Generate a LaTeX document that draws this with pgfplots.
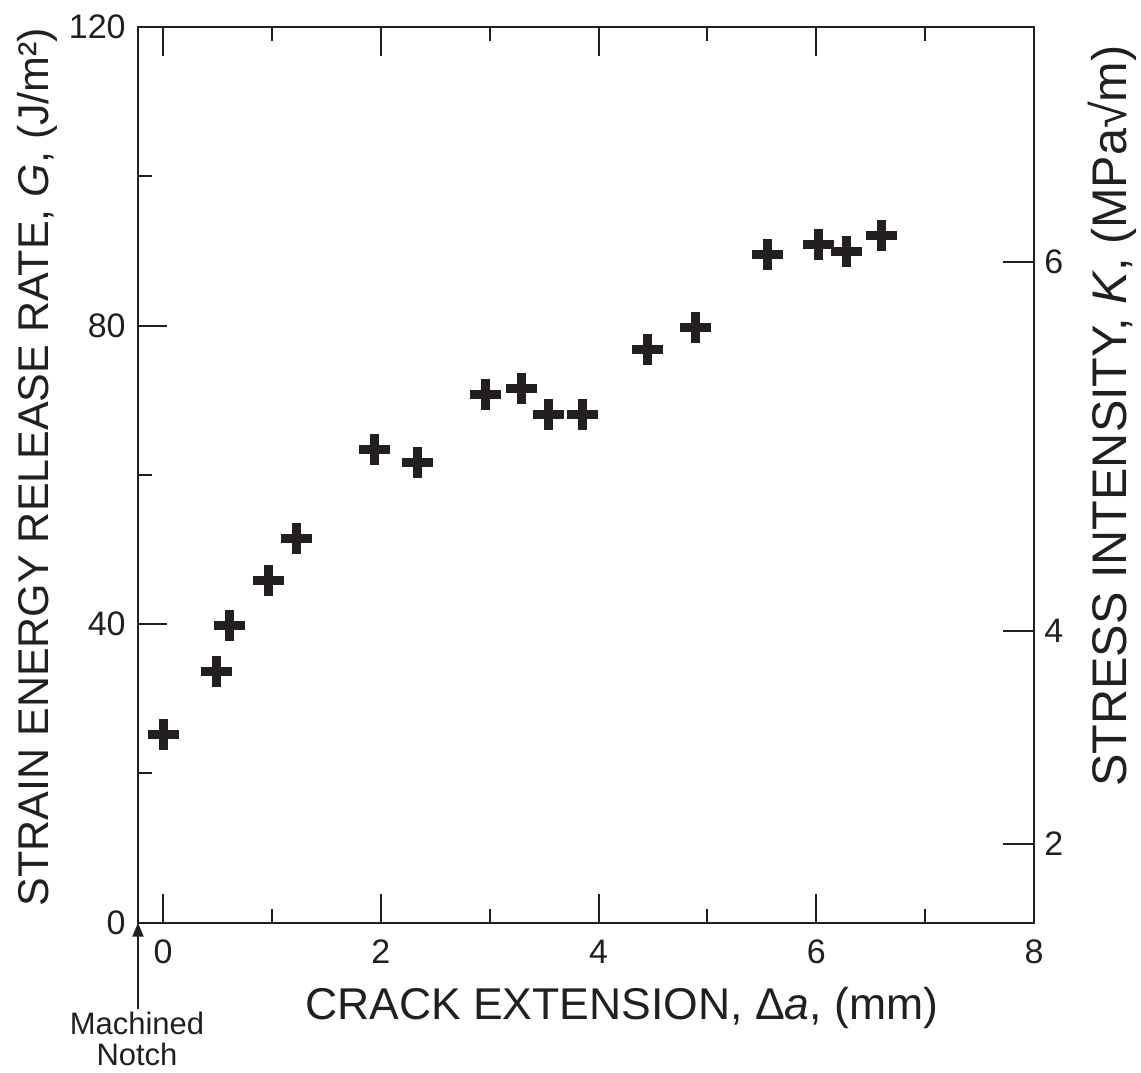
\documentclass[border=0pt]{standalone}
\usepackage{pgfplots}
\pgfplotsset{compat=1.18}
\usepackage{fontspec}
\setmainfont{Liberation Sans}
\usetikzlibrary{arrows.meta}
\definecolor{ink}{HTML}{231F20}
\pgfplotstableread{
x G
0.00 25.2
0.49 33.7
0.61 39.8
0.97 45.8
1.23 51.5
1.94 63.4
2.34 61.7
2.96 70.8
3.29 71.6
3.54 68.1
3.85 68.1
4.45 76.8
4.89 79.8
5.55 89.5
6.02 90.9
6.28 89.9
6.60 92.0
}\datatable
\begin{document}
\begin{tikzpicture}
\pgfplotsset{
  common/.style={
    scale only axis, width=448pt, height=447.85pt,
    xmin=-0.23, xmax=8, ymin=0, ymax=120,
    tick align=inside,
    axis line style={ink, line width=1pt},
    every tick/.style={ink, line width=1pt},
    tick label style={font=\fontsize{17}{17}\selectfont, text=ink},
    /pgf/number format/assume math mode=true,
    label style={font=\fontsize{22.25}{22.25}\selectfont, text=ink},
  }
}
\begin{axis}[common,
  xtick={0,2,4,6,8}, minor xtick={1,3,5,7},
  ytick={0,40,80,120}, minor ytick={20,60,100},
  ytick pos=left, xtick pos=both, xticklabel pos=lower,
  major tick length=14.5pt, minor tick length=7pt,
  xticklabel style={anchor=north, inner sep=0pt, yshift=-8.5pt},
  yticklabel style={anchor=east, inner sep=0pt, xshift=-6pt},
  xlabel={CRACK EXTENSION, Δ\textit{a}, (mm)},
  xlabel style={at={(axis description cs:0.186,-0.1086)}, anchor=base west, inner sep=0pt},
  ylabel={STRAIN ENERGY RELEASE RATE, \textit{G}, (J/m²)},
  ylabel style={at={(axis description cs:-0.1,0.018)}, anchor=base west, rotate=0, inner sep=0pt, font=\fontsize{21.5}{21.5}\selectfont},
]
\addplot[only marks, mark=+, mark size=7.75pt, line width=4.5pt, color=ink] table[x=x, y=G] {\datatable};
\coordinate (SW) at (rel axis cs:0,0);
\coordinate (NE) at (rel axis cs:1,1);
\end{axis}
\begin{axis}[common,
  axis x line=none, axis y line*=right,
  ytick={10.6,39.1,88.5}, yticklabels={2,4,6},
  major tick length=15.5pt,
  yticklabel style={anchor=west, inner sep=0pt, xshift=5pt},
  ylabel={STRESS INTENSITY, \textit{K}, (MPa√m)},
  ylabel style={at={(axis description cs:1.103,0.98)}, anchor=base east, rotate=0, inner sep=0pt, font=\fontsize{24.3}{24.3}\selectfont},
]
\addplot[draw=none] coordinates {(0,0)};
\end{axis}
\draw[ink, line width=1pt, -{Triangle[length=7pt,width=5.5pt]}] ([yshift=-43pt]SW) -- (SW);
\node[anchor=base, inner sep=0pt, text=ink, font=\fontsize{15.5}{15.5}\selectfont] at ([shift={(-0.5pt,-56pt)}]SW) {Machined};
\node[anchor=base, inner sep=0pt, text=ink, font=\fontsize{15.5}{15.5}\selectfont] at ([shift={(-0.5pt,-71.5pt)}]SW) {Notch};
\pgfresetboundingbox
\path[use as bounding box] ([shift={(-69pt,-74.65pt)}]SW) rectangle ([shift={(53.5pt,13.5pt)}]NE);
\end{tikzpicture}
\end{document}
